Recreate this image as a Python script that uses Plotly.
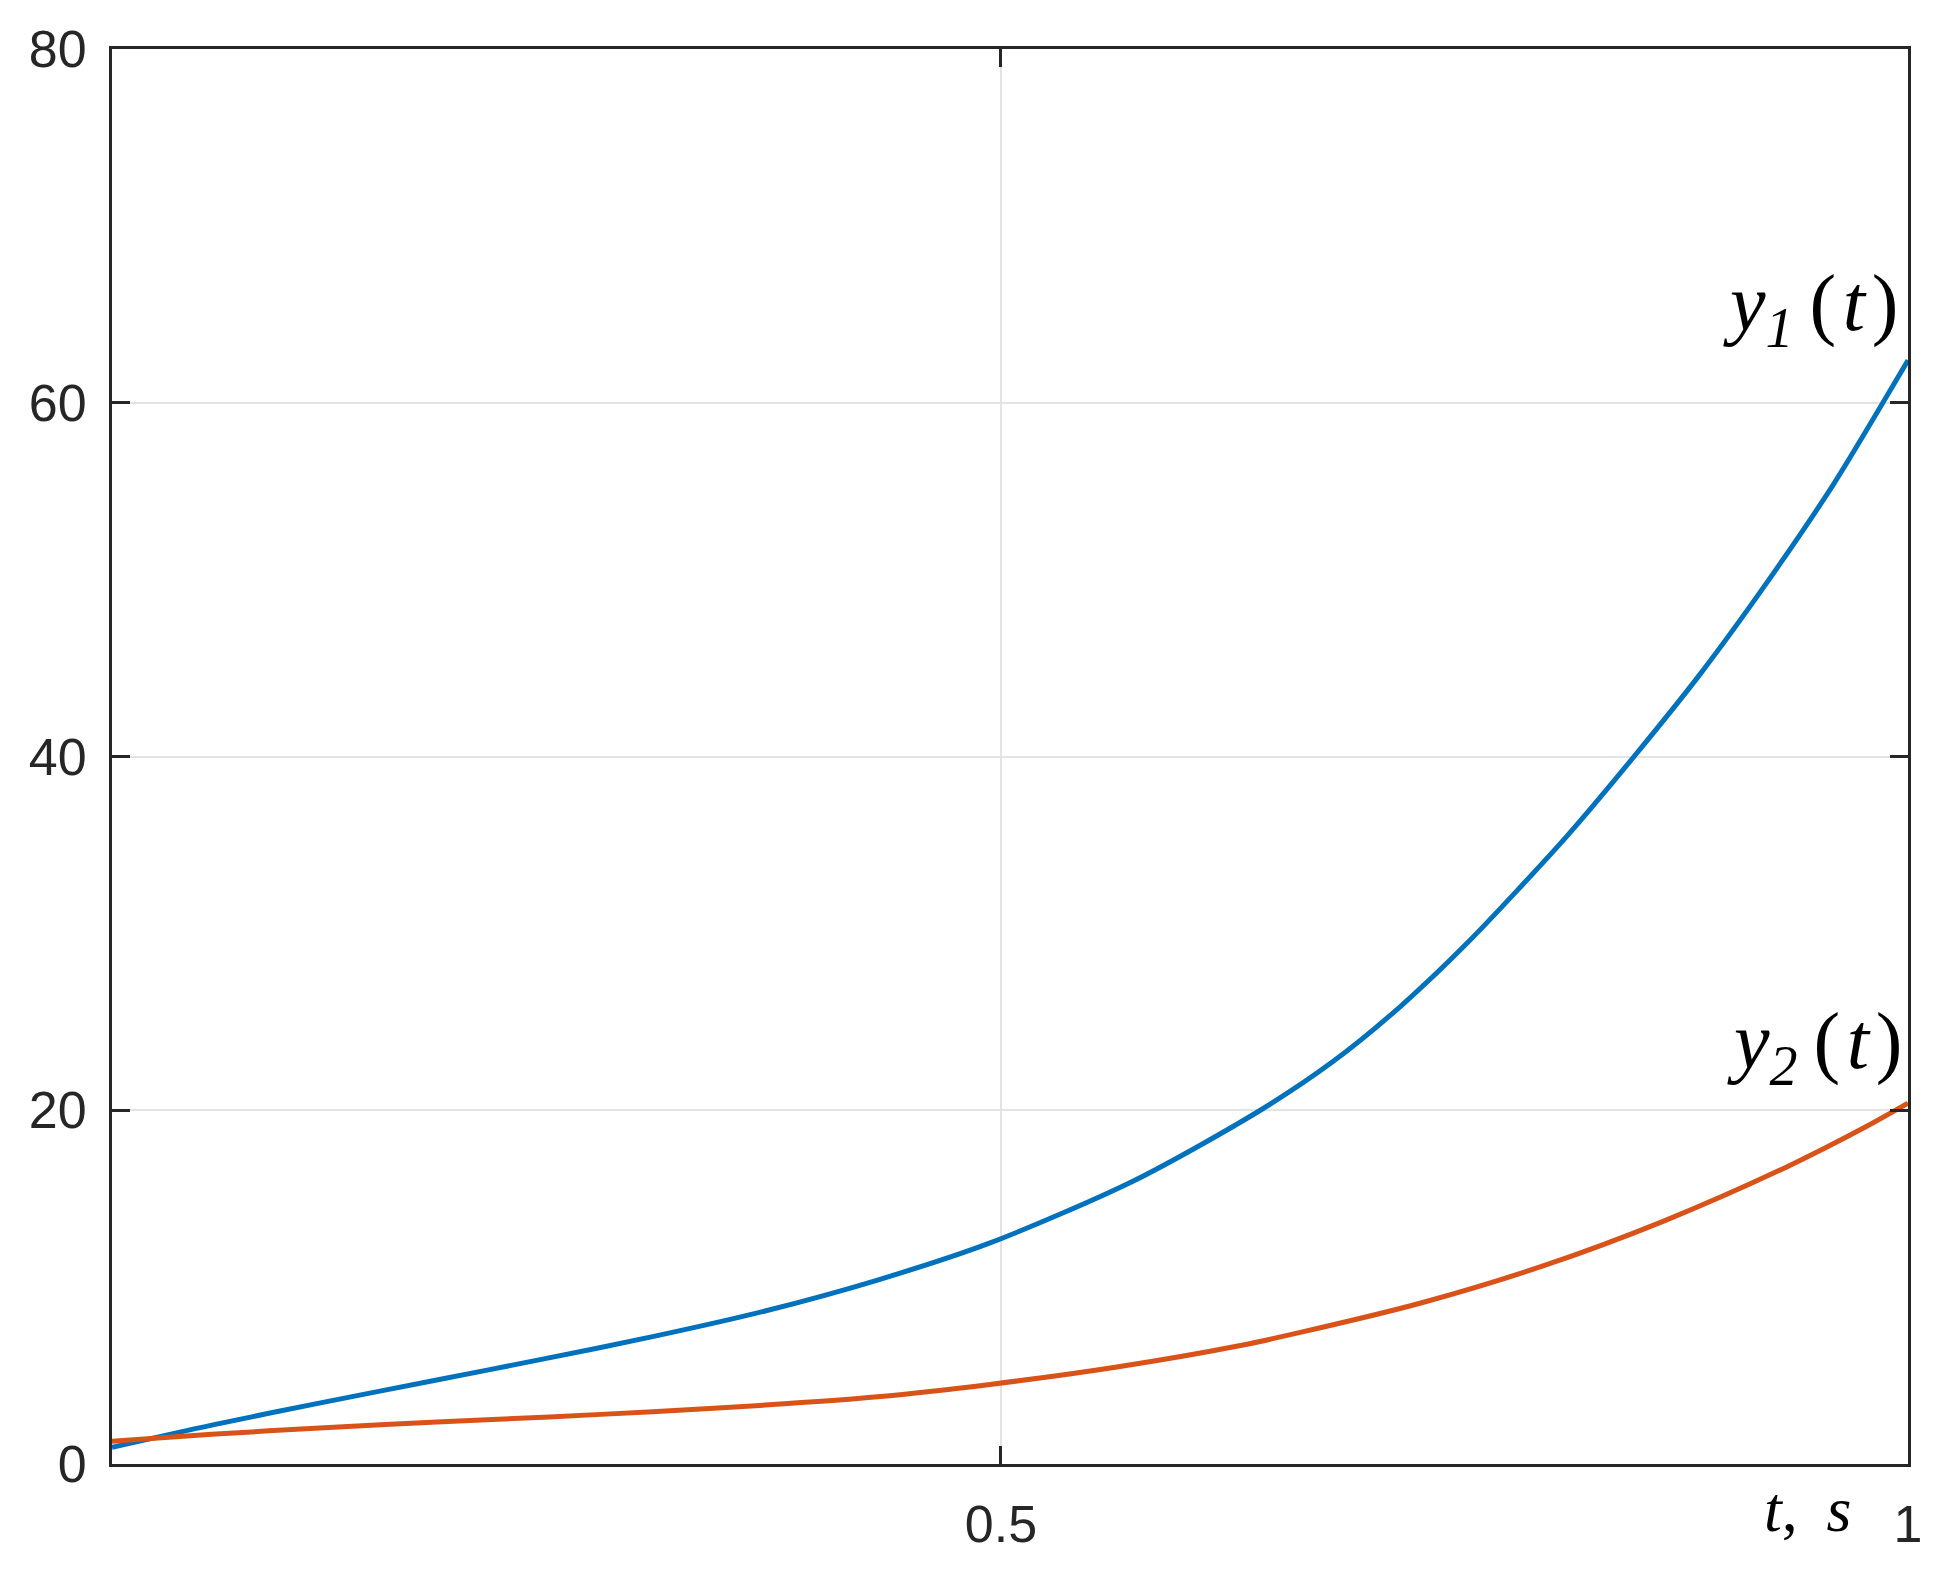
import plotly.graph_objects as go

# values
t_y1 = [0.01, 0.065, 0.127, 0.189, 0.246, 0.308, 0.370, 0.432, 0.494, 0.573,
        0.643, 0.683, 0.720, 0.757, 0.812, 0.849, 0.885, 0.922, 0.959,
        0.985, 1.0]
y1 = [0.94, 2.2, 3.5, 4.75, 5.9, 7.2, 8.65, 10.4, 12.5, 16.0,
      20.0, 22.75, 25.85, 29.45, 35.5, 40.0, 44.6, 49.8, 55.4,
      59.8, 62.4]

t_y2 = [0.01, 0.065, 0.127, 0.189, 0.251, 0.308, 0.370, 0.432, 0.494, 0.563,
        0.632, 0.665, 0.731, 0.798, 0.865, 0.932, 0.977, 1.0]
y2 = [1.28, 1.68, 2.05, 2.38, 2.66, 2.96, 3.33, 3.8, 4.5, 5.47,
      6.7, 7.44, 9.09, 11.17, 13.72, 16.74, 19.08, 20.4]

x_ticks = [0.5, 1]
y_ticks = [0, 20, 40, 60, 80]

axis_color = "#262626"
grid_color = "#e3e3e3"

fig = go.Figure()

fig.add_trace(go.Scatter(x=t_y1, y=y1, mode="lines", name="y1",
                         line=dict(color="#0072BD", width=5, shape="spline", smoothing=0.8)))
fig.add_trace(go.Scatter(x=t_y2, y=y2, mode="lines", name="y2",
                         line=dict(color="#D95319", width=5, shape="spline", smoothing=0.8)))

# curve labels (thin spaces mimic the wide LaTeX spacing)
fig.add_annotation(x=1, y=65.3, xref="x", yref="y", xanchor="right", yanchor="middle",
                   xshift=-8, showarrow=False,
                   text="<i>y<sub>1</sub></i>&#8201;(&#8202;<i>t</i>&#8202;)",
                   font=dict(family="Liberation Serif", size=80, color="black"))
fig.add_annotation(x=1, y=23.55, xref="x", yref="y", xanchor="right", yanchor="middle",
                   xshift=-4, showarrow=False,
                   text="<i>y<sub>2</sub></i>&#8201;(&#8202;<i>t</i>&#8202;)",
                   font=dict(family="Liberation Serif", size=80, color="black"))

# axis label "t, s" sits below the axis near the right end
fig.add_annotation(x=0.945, y=-0.032, xref="x", yref="paper", xanchor="center",
                   yanchor="middle", showarrow=False,
                   text="<i>t</i>,&#8201; <i>s</i>",
                   font=dict(family="Liberation Serif", size=64, color="black"))

fig.update_layout(
    width=1934,
    height=1572,
    margin=dict(l=104, r=34, t=30, b=116),
    paper_bgcolor="white",
    plot_bgcolor="white",
    showlegend=False,
    font=dict(family="Liberation Sans, Arial", size=52, color=axis_color),
)

fig.update_xaxes(
    range=[0.01, 1],
    tickvals=x_ticks,
    ticktext=["0.5", "1"],
    ticks="inside",
    ticklen=18,
    tickwidth=3,
    tickcolor=axis_color,
    showline=True,
    linecolor=axis_color,
    linewidth=3,
    mirror="ticks",
    showgrid=True,
    gridcolor=grid_color,
    gridwidth=2,
    zeroline=False,
    ticklabelstandoff=13,
)
fig.update_yaxes(
    range=[0, 80],
    tickvals=y_ticks,
    ticks="inside",
    ticklen=18,
    tickwidth=3,
    tickcolor=axis_color,
    showline=True,
    linecolor=axis_color,
    linewidth=3,
    mirror="ticks",
    showgrid=True,
    gridcolor=grid_color,
    gridwidth=2,
    zeroline=False,
    ticklabelstandoff=12,
)

fig.write_html("out.html")
